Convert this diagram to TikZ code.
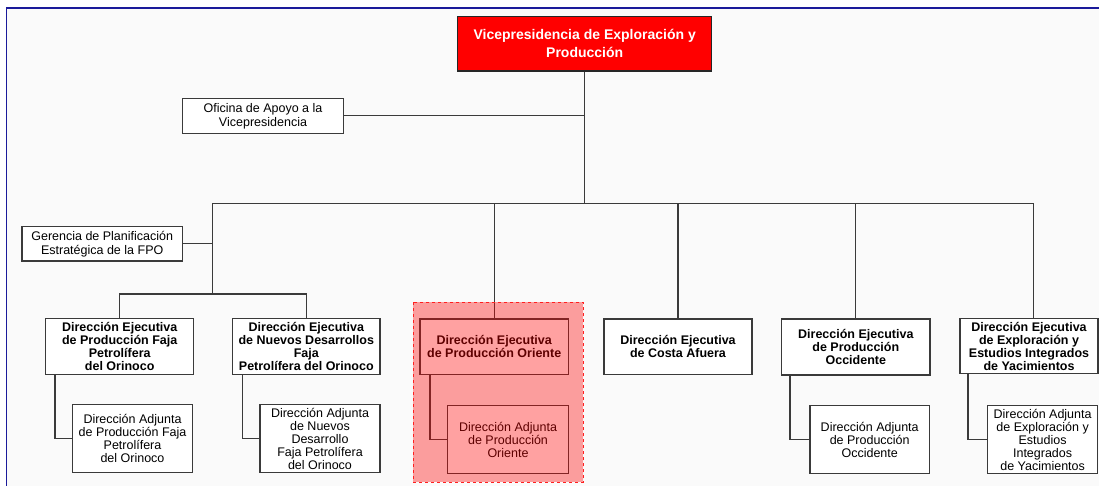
\documentclass[tikz,border=0pt]{standalone}
\usepackage{fontspec}
\setmainfont{Liberation Sans}
\definecolor{framec}{HTML}{1A1A9A}
\definecolor{linec}{HTML}{3A3A3A}
\definecolor{bgc}{HTML}{FAFAFA}
\definecolor{hlc}{HTML}{FF2020}
\begin{document}
\begin{tikzpicture}[x=1pt,y=-1pt,
  conn/.style={draw=linec,line width=1.3pt},
  boxbase/.style={draw=linec,line width=1.4pt,fill=white,align=center,inner sep=1pt,anchor=center},
  execbox/.style={boxbase,font=\fontsize{12.5}{13}\selectfont\bfseries},
  subbox/.style={boxbase,font=\fontsize{12.5}{13}\selectfont},
  staffbox/.style={boxbase,font=\fontsize{12.5}{14}\selectfont},
  topbox/.style={boxbase,draw=black!85,fill=red,text=white,font=\fontsize{14}{18}\selectfont\bfseries},
  hlbox/.style={draw=hlc,dashed,line width=1pt,fill=red,fill opacity=0.37}
]
\useasboundingbox (0,0) rectangle (1099,485);
\clip (0,0) rectangle (1099,485);
\fill[white] (0,0) rectangle (1099,485);
\draw[framec,line width=1.6pt,fill=bgc] (6.5,8) rectangle (1120,520);

% nodes
\node[topbox,minimum width=254pt,minimum height=54.3pt] (top) at (584.7,43.9) {Vicepresidencia de Exploración y\\Producción};
\node[staffbox,minimum width=160.6pt,minimum height=35pt] (off) at (263,115.8) {Oficina de Apoyo a la\\Vicepresidencia};
\node[staffbox,minimum width=160.3pt,minimum height=34.3pt] (ger) at (102.2,243.8) {Gerencia de Planificación\\Estratégica de la FPO};

\node[execbox,minimum width=148pt,minimum height=56pt] (E1) at (119.7,346.3) {Dirección Ejecutiva\\de Producción Faja\\Petrolífera\\del Orinoco};
\node[execbox,minimum width=147.3pt,minimum height=56pt] (E2) at (306.3,346.3) {Dirección Ejecutiva\\de Nuevos Desarrollos\\Faja\\Petrolífera del Orinoco};
\node[execbox,minimum width=148.3pt,minimum height=55.3pt] (E3) at (494.2,346.7) {Dirección Ejecutiva\\de Producción Oriente};
\node[execbox,minimum width=148pt,minimum height=55.3pt] (E4) at (678,346.7) {Dirección Ejecutiva\\de Costa Afuera};
\node[execbox,minimum width=148.3pt,minimum height=56pt] (E5) at (855.8,347) {Dirección Ejecutiva\\de Producción\\Occidente};
\node[execbox,minimum width=138pt,minimum height=55pt] (E6) at (1029,346) {Dirección Ejecutiva\\de Exploración y\\Estudios Integrados\\de Yacimientos};

\node[subbox,minimum width=120.4pt,minimum height=68.4pt] (S1) at (132.5,438.5) {Dirección Adjunta\\de Producción Faja\\Petrolífera\\del Orinoco};
\node[subbox,minimum width=120pt,minimum height=68.4pt] (S2) at (320,438.5) {Dirección Adjunta\\de Nuevos\\Desarrollo\\Faja Petrolífera\\del Orinoco};
\node[subbox,minimum width=120.6pt,minimum height=67.6pt] (S3) at (508,439.5) {Dirección Adjunta\\de Producción\\Oriente};
\node[subbox,minimum width=119.3pt,minimum height=67.6pt] (S5) at (869.7,439.5) {Dirección Adjunta\\de Producción\\Occidente};
\node[subbox,minimum width=109.8pt,minimum height=67.6pt] (S6) at (1042.6,439.5) {Dirección Adjunta\\de Exploración y\\Estudios\\Integrados\\de Yacimientos};

% connectors
\coordinate (busL) at (212.7,203.3);
\coordinate (busR) at (1033.3,203.3);
\coordinate (fpo) at (212.7,294);
\draw[conn] (top.south) -- (top.south |- busL);
\draw[conn] (busL) -- (busR);
\draw[conn] (off.east) -- (off.east -| top.south);
\draw[conn] (ger.east) -- (ger.east -| busL);
\draw[conn] (busL) -- (fpo);
\draw[conn] (E1.north) |- (fpo) -| (E2.north);
\draw[conn] (E3.north) -- (E3.north |- busL);
\draw[conn] (E4.north) -- (E4.north |- busL);
\draw[conn] (E5.north) -- (E5.north |- busL);
\draw[conn] (E6.north -| busR) -- (busR);

\draw[conn] ([xshift=10pt]E1.south west) |- (S1.west);
\draw[conn] ([xshift=10.6pt]E2.south west) |- (S2.west);
\draw[conn] ([xshift=10.7pt]E3.south west) |- (S3.west);
\draw[conn] ([xshift=9pt]E5.south west) |- (S5.west);
\draw[conn] ([xshift=8.7pt]E6.south west) |- (S6.west);

% highlight overlay
\path[hlbox] (413.3,302.3) rectangle (583.3,482.3);
\end{tikzpicture}
\end{document}
